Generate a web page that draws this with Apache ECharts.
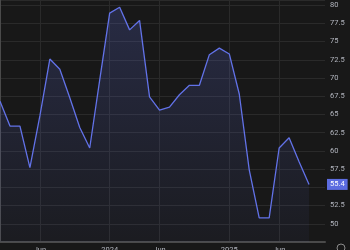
<!DOCTYPE html>
<html>
<head>
<meta charset="utf-8">
<script src="https://cdn.jsdelivr.net/npm/echarts@6/dist/echarts.min.js"></script>
<style>
html,body{margin:0;padding:0;background:#181818;}
#c{width:350px;height:250px;}
</style>
</head>
<body>
<div id="c"></div>
<script>
// Monthly values, Feb 2023 .. Sep 2025
var months = ['2023-02','2023-03','2023-04','2023-05','2023-06','2023-07','2023-08','2023-09','2023-10','2023-11','2023-12',
  '2024-01','2024-02','2024-03','2024-04','2024-05','2024-06','2024-07','2024-08','2024-09','2024-10','2024-11','2024-12',
  '2025-01','2025-02','2025-03','2025-04','2025-05','2025-06','2025-07','2025-08','2025-09'];
var values = [66.8,63.4,63.4,57.7,64.8,72.6,71.2,67.3,63.2,60.4,69.7,
  78.9,79.7,76.6,77.9,67.4,65.6,66.0,67.7,69.0,69.0,73.2,74.1,
  73.3,67.8,57.4,50.8,50.8,60.4,61.8,58.5,55.4];
var xTickMonths = ['2023-06','2024-01','2024-06','2025-01','2025-06'];
var xTickLabels = ['Jun','2024','Jun','2025','Jun'];

var data = months.map(function(m,i){ return [i, values[i]]; });
var xTickIdx = xTickMonths.map(function(m){ return months.indexOf(m); });
var lastValue = values[values.length-1];

var chart = echarts.init(document.getElementById('c'), null, {renderer:'canvas'});
chart.setOption({
  backgroundColor:'#181818',
  animation:false,
  grid:{left:0,right:25,top:0,bottom:8,containLabel:false,outerBoundsMode:'none'},
  xAxis:{
    type:'value', min:0, max:32.6,
    axisLine:{show:true,lineStyle:{color:'#4a4a4a',width:2}},
    axisTick:{show:false, customValues:xTickIdx},
    splitLine:{show:true,lineStyle:{color:'#2a2a2a',width:1}},
    axisLabel:{customValues:xTickIdx, margin:4, color:'#b2b5be', fontSize:7.5, fontFamily:'Roboto',
      formatter:function(v){ var k = xTickIdx.indexOf(Math.round(v)); return k>=0 ? xTickLabels[k] : ''; }}
  },
  yAxis:{
    type:'value', position:'right', min:47.5, max:80.7, interval:2.5,
    axisLine:{show:true,lineStyle:{color:'#4a4a4a',width:2}},
    axisTick:{show:false},
    splitLine:{show:true,lineStyle:{color:'#2a2a2a',width:1}},
    axisLabel:{margin:5, color:'#b2b5be', fontSize:7.5, fontFamily:'Roboto',
      showMinLabel:false, showMaxLabel:false,
      formatter:function(v){ return (v<49 || v>80.1) ? '' : String(v); }}
  },
  series:[{
    type:'line', data:data, symbol:'none', smooth:false,
    lineStyle:{color:'#6272e8',width:1.3},
    areaStyle:{color:new echarts.graphic.LinearGradient(0,0,0,1,[
      {offset:0,color:'rgba(98,114,232,0.30)'},
      {offset:1,color:'rgba(98,114,232,0.06)'}])},
    markLine:{
      silent:true, symbol:'none', z:10,
      lineStyle:{color:'rgba(0,0,0,0)',width:0},
      data:[{yAxis:lastValue}],
      label:{show:true, position:'end', distance:2, formatter:String(lastValue),
        color:'#ffffff', backgroundColor:'#5c6ce0', padding:[2,3,1,3], fontSize:7.5, fontFamily:'Roboto'}
    }
  }],
  graphic:[{type:'circle', shape:{cx:341,cy:248,r:4}, style:{fill:'none',stroke:'#8a8a8a',lineWidth:1}}]
});
</script>
</body>
</html>
